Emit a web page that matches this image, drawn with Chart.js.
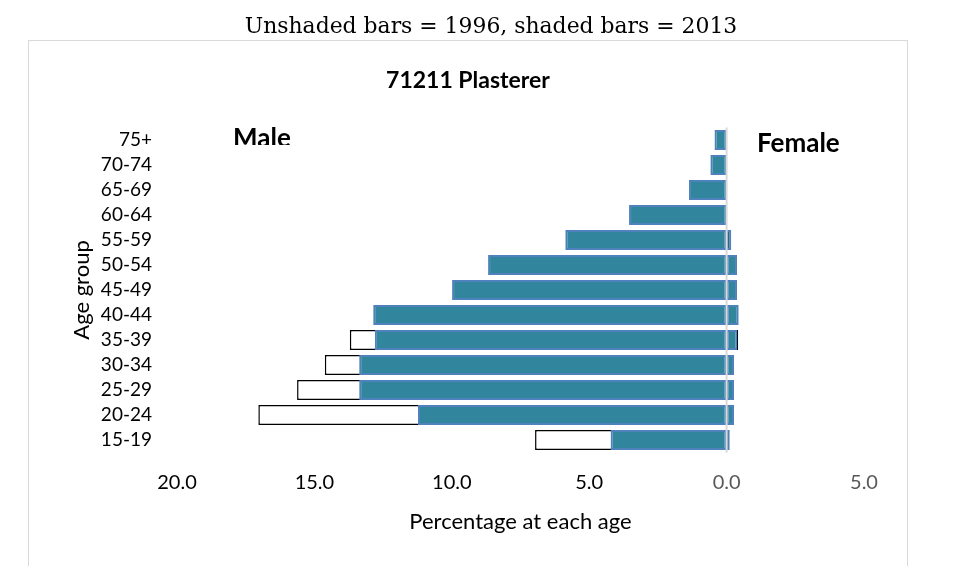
<!DOCTYPE html>
<html>
<head>
<meta charset="utf-8">
<script src="https://cdn.jsdelivr.net/npm/chart.js@4.4.1/dist/chart.umd.min.js"></script>
<style>
  html, body { margin: 0; padding: 0; background: #fff; overflow: hidden; }
</style>
</head>
<body>
<canvas id="pyramid" width="963" height="566"></canvas>
<script>
// Age groups, top to bottom
const ageGroups = ["75+", "70-74", "65-69", "60-64", "55-59", "50-54", "45-49", "40-44", "35-39", "30-34", "25-29", "20-24", "15-19"];

// Percentage at each age (male drawn to the left)
const male2013 = [0.44, 0.59, 1.37, 3.55, 5.87, 8.68, 9.99, 12.86, 12.8, 13.37, 13.37, 11.23, 4.22];
const female2013 = [0, 0, 0, 0, 0.17, 0.38, 0.38, 0.44, 0.39, 0.27, 0.27, 0.27, 0.11];
const male1996 = [0.2, 0.3, 0.9, 2.4, 4.37, 5.59, 7.7, 11.0, 13.71, 14.62, 15.63, 17.04, 6.97];
const female1996 = [0, 0, 0, 0, 0.1, 0.2, 0.3, 0.3, 0.42, 0.2, 0.2, 0.2, 0.1];

const xTicks = [-20, -15, -10, -5, 0, 5];

const shadeFill = "#31859C";
const shadeEdge = "#4F81BD";

const extras = {
    id: "extras",
    beforeDraw(chart) {
        const ctx = chart.ctx;
        ctx.save();
        ctx.fillStyle = "#fff";
        ctx.fillRect(0, 0, chart.width, chart.height);

        // chart frame
        ctx.strokeStyle = "#D9D9D9";
        ctx.lineWidth = 1;
        ctx.strokeRect(28.5, 40.5, 879, 600);

        ctx.fillStyle = "#000";
        ctx.textBaseline = "alphabetic";

        // caption above the frame, sized to the reference width
        const caption = "Unshaded bars = 1996, shaded bars = 2013";
        ctx.font = "24px 'DejaVu Serif'";
        const size = Math.min(26, 24 * 493 / ctx.measureText(caption).width);
        ctx.font = size.toFixed(1) + "px 'DejaVu Serif'";
        ctx.textAlign = "center";
        ctx.fillText(caption, 491, 33);

        // chart title
        ctx.font = "bold 23px Lato";
        ctx.fillText("71211 Plasterer", 468, 88);

        // side labels
        ctx.font = "bold 26px Lato";
        ctx.textAlign = "left";
        ctx.fillText("Female", 757, 152);

        ctx.save();
        ctx.beginPath();
        ctx.rect(200, 110, 120, 35);
        ctx.clip();
        ctx.fillText("Male", 233, 147);
        ctx.restore();

        ctx.restore();
    },
    afterDatasetsDraw(chart) {
        const { ctx, chartArea } = chart;
        const x0 = chart.scales.x.getPixelForValue(0);
        ctx.save();
        ctx.strokeStyle = "#D9D9D9";
        ctx.lineWidth = 2;
        ctx.beginPath();
        ctx.moveTo(x0, chartArea.top);
        ctx.lineTo(x0, chartArea.bottom);
        ctx.stroke();
        ctx.restore();
    },
};

const barCommon = {
    grouped: false,
    categoryPercentage: 1,
    barPercentage: 0.8,
    borderSkipped: false,
};

new Chart(document.getElementById("pyramid"), {
    type: "bar",
    data: {
        labels: ageGroups,
        datasets: [
            {
                ...barCommon,
                label: "Male 2013",
                data: male2013.map((v) => -v),
                backgroundColor: shadeFill,
                borderColor: shadeEdge,
                borderWidth: 2,
                order: 0,
            },
            {
                ...barCommon,
                label: "Female 2013",
                data: female2013,
                backgroundColor: shadeFill,
                borderColor: shadeEdge,
                borderWidth: 2,
                order: 0,
            },
            {
                ...barCommon,
                label: "Male 1996",
                data: male1996.map((v) => -v),
                backgroundColor: "#fff",
                borderColor: "#000",
                borderWidth: 1.5,
                order: 1,
            },
            {
                ...barCommon,
                label: "Female 1996",
                data: female1996,
                backgroundColor: "#fff",
                borderColor: "#000",
                borderWidth: 1.5,
                order: 1,
            },
        ],
    },
    options: {
        indexAxis: "y",
        responsive: false,
        animation: false,
        layout: {
            autoPadding: false,
            padding: { left: 28, right: 99, top: 127.5, bottom: 30.5 },
        },
        plugins: {
            legend: { display: false },
            tooltip: { enabled: false },
        },
        scales: {
            x: {
                min: xTicks[0],
                max: xTicks[xTicks.length - 1],
                afterBuildTicks: (scale) => {
                    scale.ticks = xTicks.map((v) => ({ value: v }));
                },
                afterFit: (scale) => {
                    scale.height = 83;
                },
                grid: { display: false, drawTicks: false },
                border: { display: false },
                ticks: {
                    padding: 18,
                    font: { family: "Lato", size: 20 },
                    color: (context) => (context.tick.value >= 0 ? "#595959" : "#000"),
                    callback: (value) => Math.abs(value).toFixed(1),
                },
                title: {
                    display: true,
                    text: "Percentage at each age",
                    color: "#000",
                    font: { family: "Lato", size: 22 },
                    padding: { top: 0, bottom: 0 },
                },
            },
            y: {
                afterFit: (scale) => {
                    scale.width = 149;
                },
                grid: { display: false, drawTicks: false },
                border: { display: false },
                ticks: {
                    autoSkip: false,
                    padding: 25,
                    color: "#000",
                    font: { family: "Lato", size: 19 },
                },
                title: {
                    display: true,
                    text: "Age group",
                    color: "#000",
                    font: { family: "Lato", size: 22 },
                    padding: { top: 41, bottom: 0 },
                },
            },
        },
    },
    plugins: [extras],
});
</script>
</body>
</html>
